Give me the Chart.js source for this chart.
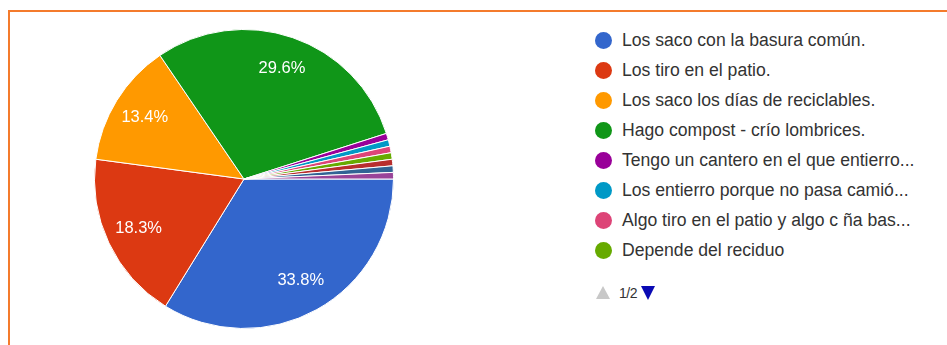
<!DOCTYPE html>
<html>
<head>
<meta charset="utf-8">
<script src="https://cdn.jsdelivr.net/npm/chart.js@4.4.0/dist/chart.umd.min.js"></script>
<style>
  html, body { margin: 0; padding: 0; background: #fff; width: 947px; height: 345px; overflow: hidden; }
  #frame { position: absolute; left: 8px; top: 10px; width: 1000px; height: 400px;
           border-top: 2px solid #f47b2c; border-left: 2px solid #f47b2c; }
  #pieWrap { position: absolute; left: 94px; top: 29px; width: 300px; height: 300px; }
  #legend { position: absolute; left: 594px; top: 25px; margin: 0; padding: 0; list-style: none;
            font-family: "Liberation Sans", Arial, sans-serif; font-size: 17.6px; color: #333; }
  #legend li { height: 30px; line-height: 30px; white-space: nowrap; position: relative; padding-left: 28px; }
  #legend li span.dot { position: absolute; left: 1px; top: 7px; width: 17px; height: 17px; border-radius: 50%; }
  #pager { position: absolute; left: 596px; top: 283px; height: 20px; width: 80px;
           font-family: "Liberation Sans", Arial, sans-serif; font-size: 14px; color: #333; }
  #pager .up { position: absolute; left: 0; top: 3px; width: 0; height: 0;
               border-left: 7px solid transparent; border-right: 7px solid transparent;
               border-bottom: 13px solid #c8c8c8; }
  #pager .txt { position: absolute; left: 23px; top: 1px; line-height: 18px; letter-spacing: -0.5px; }
  #pager .down { position: absolute; left: 45px; top: 3px; width: 0; height: 0;
                 border-left: 7px solid transparent; border-right: 7px solid transparent;
                 border-top: 14px solid #0a0ab4; }
</style>
</head>
<body>
<div id="frame"></div>
<div id="pieWrap"><canvas id="c" width="300" height="300"></canvas></div>
<ul id="legend"></ul>
<div id="pager"><span class="up"></span><span class="txt">1/2</span><span class="down"></span></div>
<script>
// ---- data ----
const categories = [
  "Los saco con la basura común.",
  "Los tiro en el patio.",
  "Los saco los días de reciclables.",
  "Hago compost - crío lombrices.",
  "Tengo un cantero en el que entierro...",
  "Los entierro porque no pasa camió...",
  "Algo tiro en el patio y algo c ña bas...",
  "Depende del reciduo",
  "Otra respuesta 1",
  "Otra respuesta 2",
  "Otra respuesta 3"
];
const responses = [48, 26, 19, 42, 1, 1, 1, 1, 1, 1, 1];
const legendPageSize = 8;
const colors = ["#3366cc", "#dc3912", "#ff9900", "#109618", "#990099", "#0099c6",
                "#dd4477", "#66aa00", "#b82e2e", "#316395", "#994499"];

const total = responses.reduce((a, b) => a + b, 0);

const pctLabels = {
  id: 'pctLabels',
  afterDatasetsDraw(chart) {
    const ctx = chart.ctx;
    const meta = chart.getDatasetMeta(0);
    ctx.save();
    ctx.font = '16.5px "Liberation Sans", Arial, sans-serif';
    ctx.fillStyle = '#ffffff';
    ctx.textAlign = 'center';
    ctx.textBaseline = 'middle';
    meta.data.forEach((arc, i) => {
      const pct = responses[i] / total * 100;
      if (pct < 5) return;
      const p = arc.getProps(['x', 'y', 'startAngle', 'endAngle', 'outerRadius'], true);
      const mid = (p.startAngle + p.endAngle) / 2;
      const r = p.outerRadius * 0.78;
      ctx.fillText(pct.toFixed(1) + '%', p.x + Math.cos(mid) * r, p.y + Math.sin(mid) * r);
    });
    ctx.restore();
  }
};

const chart = new Chart(document.getElementById('c'), {
  type: 'pie',
  data: {
    labels: categories,
    datasets: [{
      data: responses,
      backgroundColor: colors,
      borderColor: '#ffffff',
      borderWidth: 1
    }]
  },
  options: {
    responsive: false,
    animation: false,
    rotation: 90,
    layout: { padding: 0 },
    plugins: { legend: { display: false }, tooltip: { enabled: false } }
  },
  plugins: [pctLabels]
});

// HTML legend built from the chart's data (first page)
const ul = document.getElementById('legend');
categories.slice(0, legendPageSize).forEach((name, i) => {
  const li = document.createElement('li');
  const dot = document.createElement('span');
  dot.className = 'dot';
  dot.style.background = colors[i];
  li.appendChild(dot);
  li.appendChild(document.createTextNode(name));
  ul.appendChild(li);
});
</script>
</body>
</html>
